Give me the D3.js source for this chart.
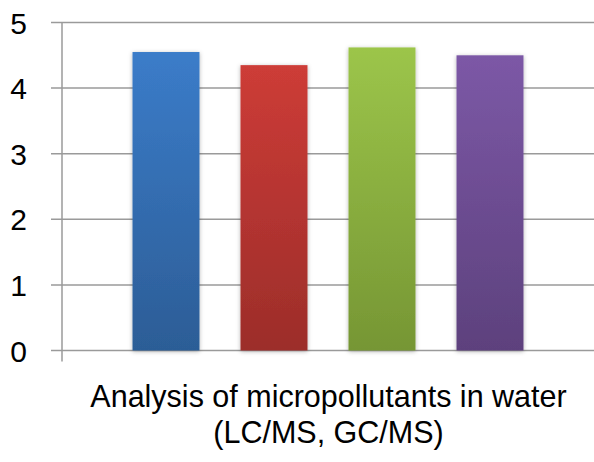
<!DOCTYPE html>
<html>
<head>
<meta charset="utf-8">
<script src="https://cdn.jsdelivr.net/npm/d3@7"></script>
<style>
  html, body { margin: 0; padding: 0; background: #fff; }
  svg { display: block; }
  text { font-family: "Liberation Sans", "Open Sans", sans-serif; fill: #000; }
</style>
</head>
<body>
<svg id="chart" width="594" height="462"></svg>
<script>
const categoryLines = ["Analysis of micropollutants in water", "(LC/MS, GC/MS)"];
const seriesNames = ["Series 1", "Series 2", "Series 3", "Series 4"];
const seriesValues = [4.55, 4.35, 4.62, 4.50];
const seriesTopColors = ["#3b7cc9", "#cd3c37", "#9cc54a", "#7c58a6"];
const seriesBottomColors = ["#2c5d96", "#9c2d2a", "#769634", "#5d417d"];
const yTicks = [0, 1, 2, 3, 4, 5];

const svg = d3.select("#chart");
const margin = { left: 62, right: 0, top: 22, bottom: 112 };
const W = 594, H = 462;

const y = d3.scaleLinear().domain([0, 5]).range([350.5, 22.5]);
const x = d3.scaleBand().domain(seriesNames).range([margin.left, W])
  .paddingInner(0.38).paddingOuter(0.653);

const defs = svg.append("defs");
seriesNames.forEach((s, i) => {
  const g = defs.append("linearGradient").attr("id", "grad" + i)
    .attr("x1", 0).attr("y1", 0).attr("x2", 0).attr("y2", 1);
  g.append("stop").attr("offset", "0%").attr("stop-color", seriesTopColors[i]);
  g.append("stop").attr("offset", "100%").attr("stop-color", seriesBottomColors[i]);
});
const f = defs.append("filter").attr("id", "shadow")
  .attr("x", "-20%").attr("y", "-20%").attr("width", "140%").attr("height", "140%");
f.append("feDropShadow").attr("dx", 0).attr("dy", 1).attr("stdDeviation", 2)
  .attr("flood-color", "#000").attr("flood-opacity", 0.3);

// gridlines (with tick marks extending left)
const grid = svg.append("g");
grid.selectAll("line").data(yTicks).join("line")
  .attr("x1", margin.left - 11).attr("x2", W)
  .attr("y1", d => y(d)).attr("y2", d => y(d))
  .attr("stroke", "#9a9a9a").attr("stroke-width", 1.5);

// y-axis line
svg.append("line")
  .attr("x1", margin.left).attr("x2", margin.left)
  .attr("y1", y(5)).attr("y2", y(0) + 11)
  .attr("stroke", "#9a9a9a").attr("stroke-width", 1.5);

// y tick labels
svg.append("g").selectAll("text").data(yTicks).join("text")
  .attr("x", 27).attr("y", d => y(d) + 11)
  .attr("text-anchor", "end")
  .attr("font-size", 30)
  .text(d => d);

// bars
svg.append("g").selectAll("rect").data(seriesValues).join("rect")
  .attr("x", (d, i) => x(seriesNames[i]))
  .attr("width", x.bandwidth())
  .attr("y", d => y(d))
  .attr("height", d => y(0) - y(d))
  .attr("fill", (d, i) => `url(#grad${i})`)
  .attr("filter", "url(#shadow)");

// category label: fit first line to reference width
const cx = (margin.left + W) / 2 + 0.5;
const label = svg.append("text")
  .attr("text-anchor", "middle")
  .attr("font-size", 30);
label.selectAll("tspan").data(categoryLines).join("tspan")
  .attr("x", cx)
  .attr("y", (d, i) => 407 + i * 36)
  .text(d => d);
const w0 = label.select("tspan").node().getComputedTextLength();
const fs = Math.min(30.5, 30 * 513 / w0);
label.attr("font-size", fs);
</script>
</body>
</html>
